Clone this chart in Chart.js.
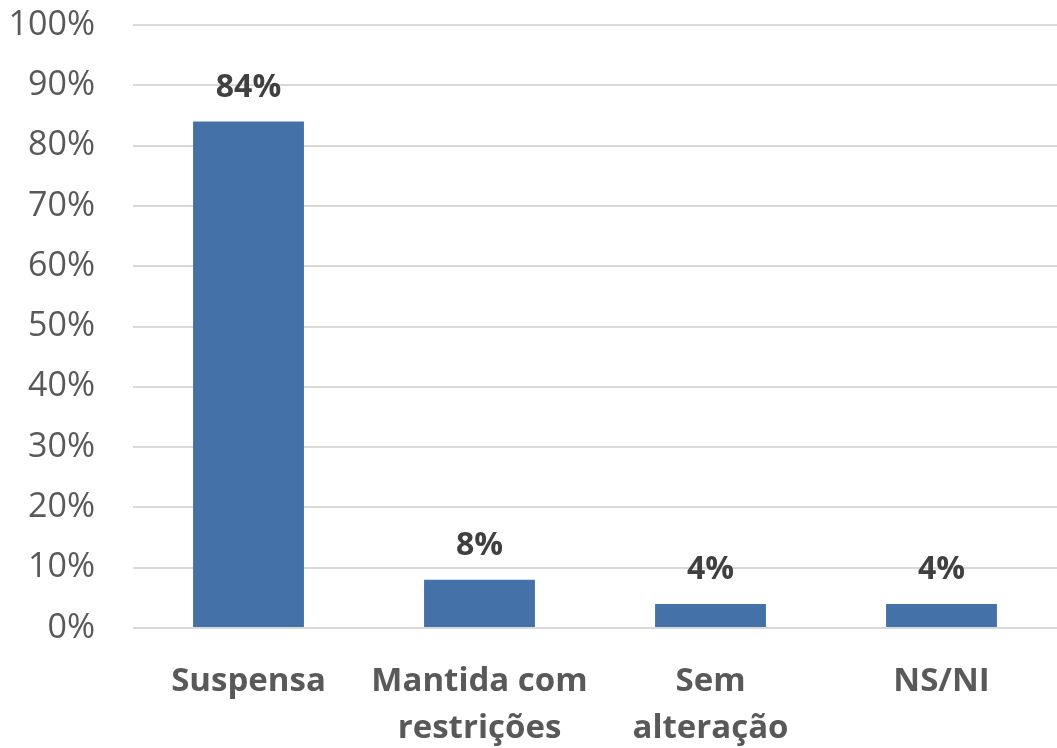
<!DOCTYPE html>
<html>
<head>
<meta charset="utf-8">
<script src="https://cdn.jsdelivr.net/npm/chart.js@4.4.0/dist/chart.umd.min.js"></script>
<style>
html,body{margin:0;padding:0;background:#fff;}
#wrap{width:1057px;height:748px;position:relative;}
</style>
</head>
<body>
<div id="wrap"><canvas id="myChart"></canvas></div>
<script>
var categories = [["Suspensa"], ["Mantida com", "restrições"], ["Sem", "alteração"], ["NS/NI"]];
var values = [84, 8, 4, 4];
var yTicks = [0, 10, 20, 30, 40, 50, 60, 70, 80, 90, 100];

var fontFam = "'Open Sans', Lato, sans-serif";

// draws the bold % above each bar
var valueLabels = {
  id: "valueLabels",
  afterDatasetsDraw: function(chart){
    var ctx = chart.ctx;
    var meta = chart.getDatasetMeta(0);
    ctx.save();
    ctx.font = "bold 32px " + fontFam;
    ctx.fillStyle = "#404040";
    ctx.textAlign = "center";
    ctx.textBaseline = "middle";
    meta.data.forEach(function(bar, i){
      ctx.fillText(values[i] + "%", bar.x, bar.y - 34);
    });
    ctx.restore();
  }
};

new Chart("myChart", {
  type: "bar",
  data: {
    labels: categories,
    datasets: [{
      data: values,
      backgroundColor: "#4472a8",
      categoryPercentage: 1,
      barPercentage: 0.48
    }]
  },
  plugins: [valueLabels],
  options: {
    responsive: true,
    maintainAspectRatio: false,
    animation: false,
    layout: {padding: {top: 25, right: 0, bottom: 0, left: 0}},
    plugins: {legend: {display: false}, tooltip: {enabled: false}},
    scales: {
      x: {
        grid: {display: false, drawTicks: false},
        border: {display: false},
        ticks: {
          color: "#595959",
          padding: 30,
          font: {family: fontFam, size: 33, weight: "bold", lineHeight: 1.42},
          maxRotation: 0,
          autoSkip: false
        },
        afterFit: function(s){ s.height = 120; s.paddingLeft = 0; s.paddingRight = 0; }
      },
      y: {
        min: 0,
        max: 100,
        afterBuildTicks: function(s){ s.ticks = yTicks.map(function(v){ return {value: v}; }); },
        grid: {color: "#d9d9d9", lineWidth: 2, drawTicks: false},
        border: {display: false},
        ticks: {
          color: "#595959",
          padding: 38,
          font: {family: fontFam, size: 34},
          callback: function(v){ return v + "%"; }
        },
        afterFit: function(s){ s.width = 133; s.paddingTop = 0; s.paddingBottom = 0; }
      }
    }
  }
});
</script>
</body>
</html>
